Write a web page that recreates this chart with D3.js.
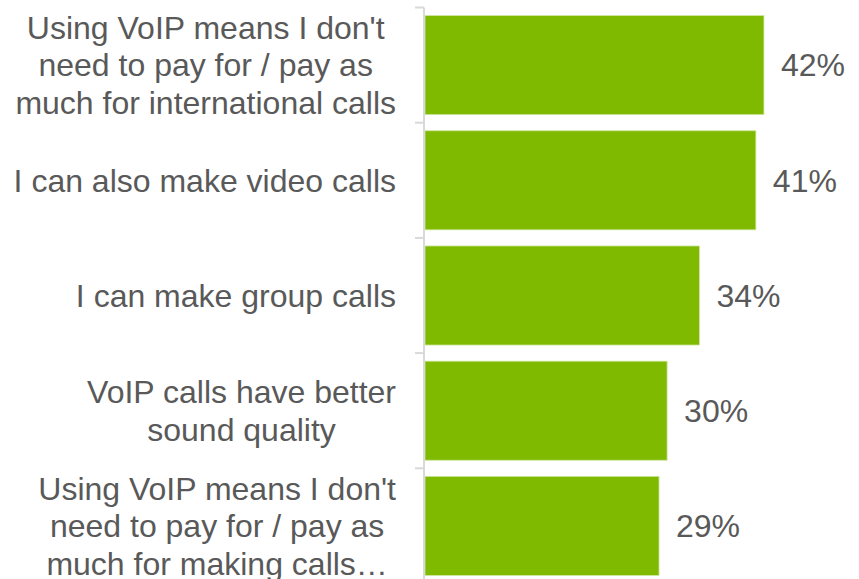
<!DOCTYPE html>
<html>
<head>
<meta charset="utf-8">
<script src="https://cdn.jsdelivr.net/npm/d3@7/dist/d3.min.js"></script>
<style>
  html, body { margin: 0; padding: 0; background: #ffffff; }
  svg { display: block; }
  text { font-family: "Liberation Sans", Arial, sans-serif; fill: #595959; }
</style>
</head>
<body>
<svg id="chart" width="859" height="579"></svg>
<script>
// Reasons for using VoIP (share of respondents)
const categories = [
  ["Using VoIP means I don't", "need to pay for / pay as", "much for international calls"],
  ["I can also make video calls"],
  ["I can make group calls"],
  ["VoIP calls have better", "sound quality"],
  ["Using VoIP means I don't", "need to pay for / pay as", "much for making calls\u2026"]
];
const values = [42, 41, 34, 30, 29];
const valueLabels = ["42%", "41%", "34%", "30%", "29%"];

const svg = d3.select("#chart");
const W = 859, H = 579;
const x0 = 425;
const labelRight = 396;

const ids = categories.map((c, i) => i);
const y = d3.scaleBand()
  .domain(ids)
  .range([7.5, 583.5])
  .paddingInner(0.14)
  .paddingOuter(0.07);

const x = d3.scaleLinear()
  .domain([0, 50])
  .range([x0, x0 + 8.07 * 50]);

const fontSize = 32;
const lineH = 37.5;

// bars
svg.append("g").selectAll("rect")
  .data(values)
  .join("rect")
  .attr("x", x(0))
  .attr("y", (d, i) => y(i))
  .attr("width", d => x(d) - x(0))
  .attr("height", y.bandwidth())
  .attr("fill", "#7fba00")
  .attr("stroke", "#cfe6a0")
  .attr("stroke-width", 0.8);

// vertical axis line with boundary ticks
const axis = svg.append("g").attr("stroke", "#d9d9d9").attr("stroke-width", 2);
axis.append("line")
  .attr("x1", x0 - 1).attr("x2", x0 - 1)
  .attr("y1", y.range()[0]).attr("y2", H);
const step = y.step();
const boundaries = ids.map(i => y.range()[0] + i * step);
axis.selectAll("line.tick")
  .data(boundaries)
  .join("line")
  .attr("class", "tick")
  .attr("x1", x0 - 10).attr("x2", x0 - 1)
  .attr("y1", d => d).attr("y2", d => d);

// category labels: each block is centred in a box whose right edge sits beside the axis
const catG = svg.append("g");
categories.forEach((lines, i) => {
  const cy = y(i) + y.bandwidth() / 2;
  const t = catG.append("text")
    .attr("text-anchor", "middle")
    .attr("font-size", fontSize);
  const n = lines.length;
  const spans = lines.map((ln, j) =>
    t.append("tspan")
      .attr("x", 0)
      .attr("y", cy + (j - (n - 1) / 2) * lineH)
      .attr("dy", "0.35em")
      .text(ln)
  );
  const maxW = d3.max(spans, s => s.node().getComputedTextLength());
  spans.forEach(s => s.attr("x", labelRight - maxW / 2));
});

// value labels
svg.append("g").selectAll("text")
  .data(values)
  .join("text")
  .attr("x", d => x(d) + 17)
  .attr("y", (d, i) => y(i) + y.bandwidth() / 2)
  .attr("dy", "0.35em")
  .attr("font-size", fontSize)
  .text((d, i) => valueLabels[i]);
</script>
</body>
</html>
